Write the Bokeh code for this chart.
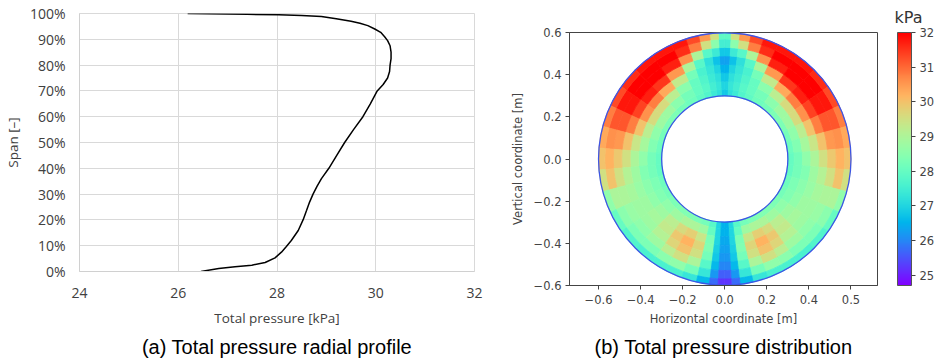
import math
from bokeh.plotting import figure
from bokeh.layouts import row
from bokeh.models import (FixedTicker, ColorBar, LinearColorMapper, Title,
                          ColumnDataSource, Range1d)
from bokeh.embed import file_html
from bokeh.resources import INLINE

# ---------------- (a) radial profile data ----------------
SPAN = [0.0, 0.0116, 0.0181, 0.0246, 0.0349, 0.053, 0.075, 0.097, 0.12, 0.159, 0.201,
        0.237, 0.269, 0.30, 0.33, 0.36, 0.40, 0.45, 0.50, 0.55, 0.60, 0.65, 0.70, 0.725,
        0.75, 0.775, 0.80, 0.825, 0.85, 0.875, 0.895, 0.91, 0.927, 0.94, 0.953, 0.962,
        0.97, 0.98, 0.988, 0.992, 0.995, 0.997, 1.0]
PRESSURE = [26.46, 26.82, 27.15, 27.49, 27.76, 27.96, 28.09, 28.19, 28.29, 28.43, 28.53,
            28.6, 28.66, 28.73, 28.81, 28.9, 29.05, 29.21, 29.37, 29.55, 29.74, 29.89, 30.03,
            30.15, 30.24, 30.28, 30.29, 30.31, 30.31, 30.29, 30.24, 30.18, 30.1, 29.98, 29.84,
            29.68, 29.5, 29.2, 28.9, 28.5, 28.03, 27.4, 26.19]
X_TICKS_A = [24, 26, 28, 30, 32]
Y_TICKS_A = [0.0, 0.1, 0.2, 0.3, 0.4, 0.5, 0.6, 0.7, 0.8, 0.9, 1.0]
Y_LABELS_A = ["0%", "10%", "20%", "30%", "40%", "50%", "60%", "70%", "80%", "90%", "100%"]

# ---------------- (b) total pressure field (annulus cells) ----------------
# sector edges in degrees measured clockwise from the top (right half; left half is the mirror)
THETA_EDGES = [0, 3, 7, 12, 18, 25, 35, 45, 55, 65, 75, 85, 95, 105, 115, 125, 135, 145,
               152, 160, 167, 173, 177, 180]
R_EDGES = [0.30, 0.33, 0.37, 0.41, 0.45, 0.49, 0.53, 0.57, 0.60]
# kPa per sector, rings from hub (inner) to casing (outer)
TP_FIELD = [
    [26.8, 27.0, 26.8, 26.5, 26.3, 26.8, 27.5, 27.9],
    [27.2, 27.3, 27.2, 27.0, 26.7, 27.4, 28.5, 29.5],
    [27.4, 27.5, 27.4, 27.3, 27.2, 27.8, 29.5, 30.5],
    [27.7, 27.8, 27.7, 27.6, 27.8, 29.0, 30.8, 31.3],
    [27.9, 28.0, 28.0, 28.2, 29.0, 30.6, 31.6, 31.8],
    [28.1, 28.2, 28.5, 29.3, 30.5, 31.7, 32.0, 31.8],
    [28.2, 28.5, 29.2, 30.3, 31.5, 32.0, 32.0, 31.8],
    [28.3, 28.8, 29.6, 30.8, 31.7, 32.0, 32.0, 31.6],
    [28.3, 28.8, 29.6, 30.6, 31.4, 31.8, 31.8, 31.3],
    [28.2, 28.6, 29.2, 30.0, 30.8, 31.2, 31.2, 30.8],
    [28.1, 28.4, 28.9, 29.4, 30.0, 30.5, 30.6, 30.3],
    [28.0, 28.2, 28.6, 29.0, 29.5, 29.9, 30.2, 30.0],
    [28.0, 28.2, 28.4, 28.8, 29.1, 29.5, 30.0, 29.5],
    [28.1, 28.3, 28.5, 28.7, 28.9, 29.0, 29.0, 28.6],
    [28.2, 28.4, 28.6, 28.8, 28.8, 28.7, 28.5, 28.0],
    [28.3, 28.6, 28.8, 28.9, 28.8, 28.6, 28.3, 27.7],
    [28.4, 28.8, 29.2, 29.3, 29.1, 28.8, 28.3, 27.6],
    [28.4, 29.0, 29.6, 29.9, 29.7, 29.2, 28.5, 27.6],
    [28.3, 29.0, 29.8, 30.2, 30.0, 29.5, 28.6, 27.6],
    [28.2, 28.8, 29.4, 29.7, 29.5, 29.0, 28.2, 27.3],
    [27.8, 28.0, 28.3, 28.4, 28.2, 27.8, 27.3, 26.6],
    [27.0, 27.0, 27.0, 26.9, 26.8, 26.6, 26.2, 25.7],
    [26.5, 26.5, 26.4, 26.3, 26.2, 26.0, 25.6, 25.2],
]
RIM_RADII = [0.30, 0.60]
X_TICKS_B = [-0.6, -0.4, -0.2, 0.0, 0.2, 0.4, 0.6]
X_LABELS_B = ["\u22120.6", "\u22120.4", "\u22120.2", "0.0", "0.2", "0.4", "0.5"]
Y_TICKS_B = [-0.6, -0.4, -0.2, 0.0, 0.2, 0.4, 0.6]
Y_LABELS_B = ["\u22120.6", "\u22120.4", "\u22120.2", "0.0", "0.2", "0.4", "0.6"]
CB_TICKS = [25, 26, 27, 28, 29, 30, 31, 32]
CB_LOW, CB_HIGH = 24.7, 32.0
CB_UNIT = "kPa"


def rainbow(n=256):
    out = []
    for k in range(n):
        t = k / (n - 1)
        r = min(1.0, abs(2 * t - 0.5))
        g = math.sin(math.pi * t)
        b = math.cos(math.pi * t / 2)
        out.append("#%02x%02x%02x" % (round(r * 255), round(g * 255), round(max(b, 0) * 255)))
    return out


CAPTION_FONT = "Liberation Sans"
CAPTION_SIZE = "20px"

# ================= panel (a) =================
EXCEL_FONT = "Open Sans"
p1 = figure(width=490, height=363, x_range=Range1d(24, 32), y_range=Range1d(0, 1),
            output_backend="svg", toolbar_location=None,
            min_border_left=77, min_border_right=16, min_border_top=13, min_border_bottom=92)
p1.frame_align = False
p1.line(PRESSURE, SPAN, color="black", line_width=1.5)
p1.xaxis.ticker = FixedTicker(ticks=X_TICKS_A)
p1.yaxis.ticker = FixedTicker(ticks=Y_TICKS_A)
p1.xgrid.ticker = FixedTicker(ticks=X_TICKS_A)
p1.ygrid.ticker = FixedTicker(ticks=Y_TICKS_A)
p1.yaxis.major_label_overrides = dict(zip(Y_TICKS_A, Y_LABELS_A))
p1.xaxis.axis_label = "Total pressure [kPa]"
p1.yaxis.axis_label = "Span [\u2013]"
for ax in (p1.xaxis, p1.yaxis):
    ax.major_tick_line_color = None
    ax.minor_tick_line_color = None
    ax.major_tick_out = 0
    ax.major_tick_in = 0
    ax.axis_line_color = "#d0d0d0"
    ax.major_label_text_font = EXCEL_FONT
    ax.major_label_text_font_size = "14px"
    ax.major_label_text_color = "#404040"
    ax.axis_label_text_font = EXCEL_FONT
    ax.axis_label_text_font_size = "13.5px"
    ax.axis_label_text_font_style = "normal"
    ax.axis_label_text_color = "#404040"
p1.xaxis.major_label_standoff = 16
p1.yaxis.major_label_standoff = 14
p1.xaxis.axis_label_standoff = 8
p1.yaxis.axis_label_standoff = 5
p1.grid.grid_line_color = "#d9d9d9"
p1.outline_line_color = "#d9d9d9"
p1.background_fill_color = "white"
p1.border_fill_color = "white"
p1.add_layout(Title(text="(a) Total pressure radial profile", align="center",
                    text_font=CAPTION_FONT, text_font_size=CAPTION_SIZE,
                    text_font_style="normal", text_color="black", standoff=9), "below")

# ================= panel (b) =================
MPL_FONT = "DejaVu Sans"
mapper = LinearColorMapper(palette=rainbow(), low=CB_LOW, high=CB_HIGH)

cells = dict(ir=[], orr=[], sa=[], ea=[], v=[])
for i in range(len(THETA_EDGES) - 1):
    t1, t2 = THETA_EDGES[i], THETA_EDGES[i + 1]
    for side in (1, -1):
        if side == 1:
            a0, a1 = 90 - t2, 90 - t1
        else:
            a0, a1 = 90 + t1, 90 + t2
        for j in range(len(R_EDGES) - 1):
            cells["ir"].append(R_EDGES[j])
            cells["orr"].append(R_EDGES[j + 1])
            cells["sa"].append(math.radians(a0))
            cells["ea"].append(math.radians(a1))
            cells["v"].append(TP_FIELD[i][j])
src = ColumnDataSource(cells)

p2 = figure(width=447, height=363, x_range=Range1d(-0.738, 0.726), y_range=Range1d(-0.6, 0.6),
            output_backend="svg", toolbar_location=None,
            min_border_left=79, min_border_right=59, min_border_top=32, min_border_bottom=78)
p2.frame_align = False
p2.annular_wedge(x=0, y=0, inner_radius="ir", outer_radius="orr", start_angle="sa",
                 end_angle="ea", source=src,
                 fill_color={"field": "v", "transform": mapper},
                 line_color={"field": "v", "transform": mapper}, line_width=0.8)
p2.circle(x=[0, 0], y=[0, 0], radius=RIM_RADII, fill_color=None,
          line_color="#3d55e6", line_width=1.3)
p2.grid.visible = False
p2.xaxis.ticker = FixedTicker(ticks=X_TICKS_B)
p2.yaxis.ticker = FixedTicker(ticks=Y_TICKS_B)
p2.xaxis.major_label_overrides = dict(zip(X_TICKS_B, X_LABELS_B))
p2.yaxis.major_label_overrides = dict(zip(Y_TICKS_B, Y_LABELS_B))
p2.xaxis.axis_label = "Horizontal coordinate [m]"
p2.yaxis.axis_label = "Vertical coordinate [m]"
for ax in (p2.xaxis, p2.yaxis):
    ax.minor_tick_line_color = None
    ax.major_tick_out = 4
    ax.major_tick_in = 0
    ax.major_tick_line_color = "#444444"
    ax.axis_line_color = "#444444"
    ax.major_label_text_font = MPL_FONT
    ax.major_label_text_font_size = "11.5px"
    ax.major_label_text_color = "#444444"
    ax.axis_label_text_font = MPL_FONT
    ax.axis_label_text_font_size = "11.5px"
    ax.axis_label_text_font_style = "normal"
    ax.axis_label_text_color = "#444444"
p2.xaxis.major_label_standoff = 5
p2.yaxis.major_label_standoff = 4
p2.xaxis.axis_label_standoff = 5
p2.yaxis.axis_label_standoff = 6
p2.outline_line_color = "#444444"
p2.outline_line_width = 1

cb = ColorBar(color_mapper=mapper, ticker=FixedTicker(ticks=CB_TICKS), width=14, height=253,
              padding=0, margin=0, location=(20, 0), bar_line_color="#555555",
              major_tick_out=4, major_tick_in=0, major_tick_line_color="#444444",
              minor_tick_line_color=None, label_standoff=4,
              major_label_text_font=MPL_FONT, major_label_text_font_size="11.5px",
              major_label_text_color="#444444", background_fill_color=None,
              border_line_color=None)
p2.add_layout(cb, "right")
# colour-bar unit, placed above the bar
p2.add_layout(Title(text=CB_UNIT, align="right", offset=-45, standoff=11,
                    text_font=MPL_FONT, text_font_size="16px", text_font_style="normal",
                    text_color="#333333"), "above")
p2.add_layout(Title(text="(b) Total pressure distribution", align="center",
                    text_font=CAPTION_FONT, text_font_size=CAPTION_SIZE,
                    text_font_style="normal", text_color="black", standoff=11), "below")

layout = row(p1, p2)
open("out.html", "w").write(file_html(layout, INLINE))
